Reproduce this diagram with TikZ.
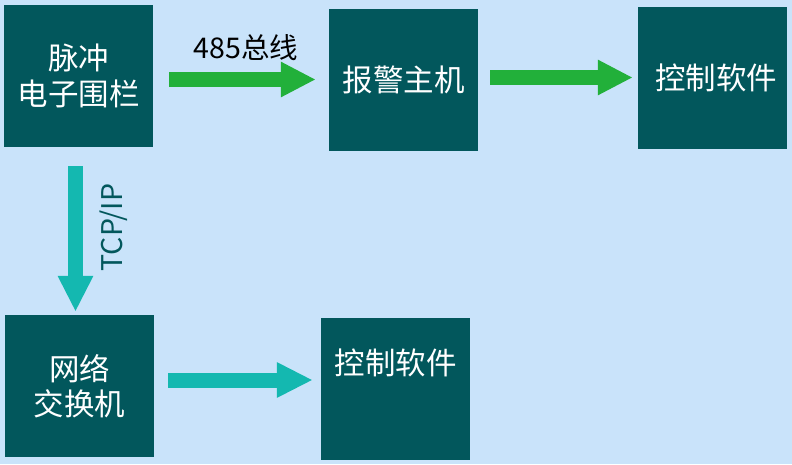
\documentclass[tikz,border=0pt]{standalone}
\usepackage{fontspec}
\setmainfont{Noto Sans CJK SC}
\usepackage{tikz}
\usetikzlibrary{arrows.meta}
\definecolor{bgblue}{RGB}{201,227,250}
\definecolor{boxteal}{RGB}{2,87,92}
\definecolor{arrgreen}{RGB}{34,176,58}
\definecolor{arrteal}{RGB}{20,184,176}
\tikzset{
    box/.style={rectangle, fill=boxteal, text=white, minimum width=149pt, minimum height=142pt, inner sep=0pt, align=center, font=\fontsize{30.5}{35.5}\selectfont},
    garrow/.style={draw=arrgreen, line width=15pt, -{Triangle[length=35pt, width=33pt]}},
    tarrow/.style={draw=arrteal, line width=15pt, -{Triangle[length=36pt, width=33pt]}},
    lbl/.style={inner sep=0pt, font=\fontsize{28.5}{33}\selectfont}
}

\begin{document}
\begin{tikzpicture}[x=1pt, y=-1pt]
    \fill[bgblue] (0,0) rectangle (792,464);
    \useasboundingbox (0,0) rectangle (792,464);

    % Nodes
    \node[box] (fence) at (78.5,76) {脉冲\\电子围栏};
    \node[box] (host) at (403.5,80) {报警主机};
    \node[box] (soft) at (712.5,78) {\hspace{7pt}控制软件};
    \node[box] (switch) at (79.5,386) {网络\\交换机};
    \node[box, text depth=55pt] (soft2) at (395.5,389) {控制软件};

    \node[lbl] (bus) at (246,48) {485总线};
    \node[lbl, text=boxteal, rotate=90] (tcp) at (114,227.5) {TCP/IP};

    % edges
    \draw[garrow] ([xshift=16pt, yshift=-3.5pt]fence.east) -- ([xshift=-13pt, yshift=0.5pt]host.west);
    \draw[garrow] ([xshift=12pt, yshift=2.5pt]host.east) -- ([xshift=-5pt, yshift=0.5pt]soft.west);
    \draw[tarrow] ([xshift=-3pt, yshift=-19pt]fence.south) -- ([xshift=-4pt, yshift=3pt]switch.north);
    \draw[tarrow] ([xshift=14pt, yshift=6pt]switch.east) -- ([xshift=-8pt, yshift=9pt]soft2.west);
\end{tikzpicture}
\end{document}
